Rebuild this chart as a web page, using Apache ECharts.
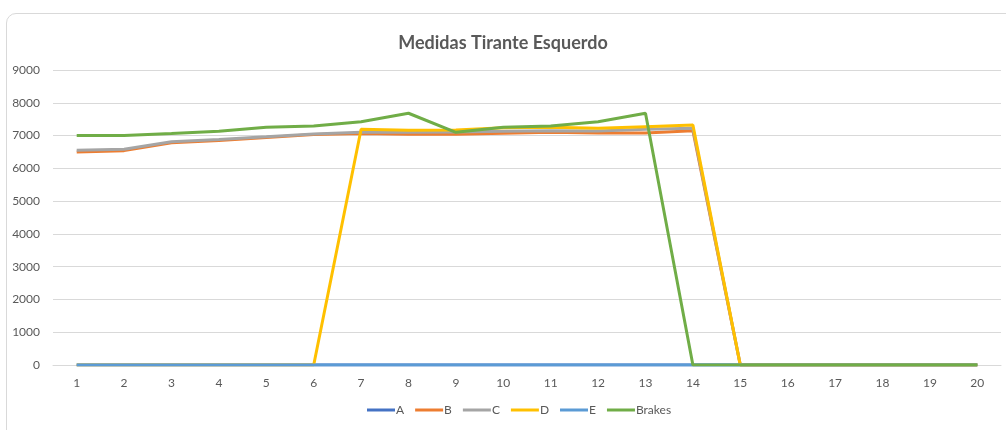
<!DOCTYPE html>
<html>
<head>
<meta charset="utf-8">
<script src="https://cdn.jsdelivr.net/npm/echarts@6/dist/echarts.min.js"></script>
<style>
  html, body { margin: 0; padding: 0; background: #fff; }
  #frame {
    position: absolute; left: 6px; top: 13px; width: 1010px; height: 430px;
    border: 1px solid #d9d9d9; border-radius: 10px; box-sizing: border-box;
  }
  #chartWrapper { position: absolute; left: 0; top: 0; width: 1006px; height: 430px; }
</style>
</head>
<body>
<div id="frame"></div>
<div id="chartWrapper"></div>
<script>
// X軸
const categories = ["1","2","3","4","5","6","7","8","9","10","11","12","13","14","15","16","17","18","19","20"];
// 各系列數值
const serieA = [0,0,0,0,0,0,0,0,0,0,0,0,0,0,0,0,0,0,0,0];
const serieB = [6500,6540,6780,6850,6940,7030,7060,7040,7040,7070,7100,7080,7080,7150,0,0,0,0,0,0];
const serieC = [6550,6580,6810,6880,6960,7050,7100,7100,7110,7130,7150,7140,7190,7220,0,0,0,0,0,0];
const serieD = [0,0,0,0,0,0,7190,7160,7170,7240,7250,7220,7270,7320,0,0,0,0,0,0];
const serieE = [0,0,0,0,0,0,0,0,0,0,0,0,0,0,0,0,0,0,0,0];
const brakes = [7000,7000,7060,7130,7250,7290,7420,7680,7100,7250,7290,7420,7680,0,0,0,0,0,0,0];

const seriesNames = ["A","B","C","D","E","Brakes"];
const seriesValues = [serieA, serieB, serieC, serieD, serieE, brakes];
const colors = ["#4472C4","#ED7D31","#A5A5A5","#FFC000","#5B9BD5","#70AD47"];

const myChart = echarts.init(document.getElementById("chartWrapper"));
const labelFont = "Lato";

let option = {
  animation: false,
  title: {
    text: "Medidas Tirante Esquerdo",
    left: "center",
    top: 29,
    textStyle: { fontFamily: labelFont, fontSize: 18, fontWeight: "bold", color: "#595959" }
  },
  grid: { left: 53, right: 5, top: 70, bottom: 65 },
  legend: {
    bottom: 9,
    left: 362,
    itemWidth: 28,
    itemHeight: 3,
    itemGap: 11,
    icon: "rect",
    textStyle: { fontFamily: labelFont, fontSize: 12, color: "#595959", padding: [0, 0, 0, -4] },
    data: seriesNames
  },
  xAxis: {
    type: "category",
    data: categories,
    boundaryGap: true,
    axisLine: { show: true, lineStyle: { color: "#d9d9d9" } },
    axisTick: { show: false },
    axisLabel: { fontFamily: labelFont, fontSize: 12, color: "#595959", margin: 12 }
  },
  yAxis: {
    type: "value",
    min: 0,
    max: 9000,
    interval: 1000,
    axisLine: { show: false },
    axisTick: { show: false },
    splitLine: { lineStyle: { color: "#d9d9d9" } },
    axisLabel: { fontFamily: labelFont, fontSize: 12, color: "#595959", margin: 13, formatter: (v) => String(v) }
  },
  series: seriesNames.map((name, i) => ({
    name: name,
    type: "line",
    data: seriesValues[i],
    symbol: "none",
    lineStyle: { width: 3, color: colors[i] },
    itemStyle: { color: colors[i] }
  }))
};

myChart.setOption(option);
</script>
</body>
</html>
